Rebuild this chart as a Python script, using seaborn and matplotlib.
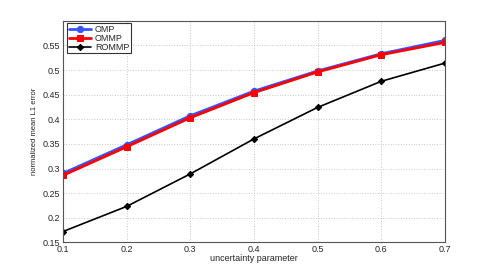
import numpy as np
import pandas as pd
import seaborn as sns
import matplotlib.pyplot as plt

#%% Data
x_vals = [0.1, 0.2, 0.3, 0.4, 0.5, 0.6, 0.7]
omp = [0.290, 0.348, 0.407, 0.457, 0.498, 0.533, 0.560]
ommp = [0.286, 0.344, 0.403, 0.454, 0.496, 0.531, 0.556]
rommp = [0.172, 0.223, 0.289, 0.360, 0.424, 0.477, 0.514]
methods = ["OMP", "OMMP", "ROMMP"]

df = pd.DataFrame({"x": x_vals * 3,
                   "err": omp + ommp + rommp,
                   "method": [m for m in methods for _ in x_vals]})

#%% Plot
sns.set_style("white")
plt.rcParams['font.family'] = ['Liberation Sans', 'DejaVu Sans']
fig = plt.figure(figsize=(4.91, 2.73), dpi=100)
ax = fig.add_axes([0.128, 0.112, 0.778, 0.812])

palette = {"OMP": "#3355ff", "OMMP": "#ff0000", "ROMMP": "#000000"}
markers = {"OMP": "o", "OMMP": "s", "ROMMP": "D"}
widths = {"OMP": 2.0, "OMMP": 2.0, "ROMMP": 1.2}
sizes = {"OMP": 4.5, "OMMP": 4.5, "ROMMP": 3.2}
for m in methods:
    d = df[df.method == m]
    sns.lineplot(data=d, x="x", y="err", ax=ax, color=palette[m], marker=markers[m],
                 markersize=sizes[m], linewidth=widths[m], markeredgecolor=palette[m],
                 label=m)

ax.set_xlim(0.1, 0.7)
ax.set_ylim(0.15, 0.6)
ax.set_xticks(x_vals)
ax.set_xticklabels(["0.1", "0.2", "0.3", "0.4", "0.5", "0.6", "0.7"])
ax.set_yticks([0.15, 0.2, 0.25, 0.3, 0.35, 0.4, 0.45, 0.5, 0.55])
ax.set_yticklabels(["0.15", "0.2", "0.25", "0.3", "0.35", "0.4", "0.45", "0.5", "0.55"])
ax.tick_params(direction="in", length=3, labelsize=6.5, color="#555555", pad=2)
ax.grid(True, linestyle=":", color="#c8c8c8", linewidth=0.7)
for s in ax.spines.values():
    s.set_color("#555555")
    s.set_linewidth(0.8)
ax.set_xlabel("uncertainty parameter", fontsize=6.5, labelpad=0)
ax.set_ylabel("normalized mean L1 error", fontsize=5.5, labelpad=3)

leg = ax.legend(loc="upper left", bbox_to_anchor=(0.012, 0.988), fontsize=6.5,
                frameon=True, fancybox=False, borderaxespad=0.0, handlelength=2.5,
                labelspacing=0.02, borderpad=0.15, handletextpad=0.4)
leg.get_frame().set_edgecolor("black")
leg.get_frame().set_linewidth(0.8)

fig.savefig("out.png", dpi=100)
